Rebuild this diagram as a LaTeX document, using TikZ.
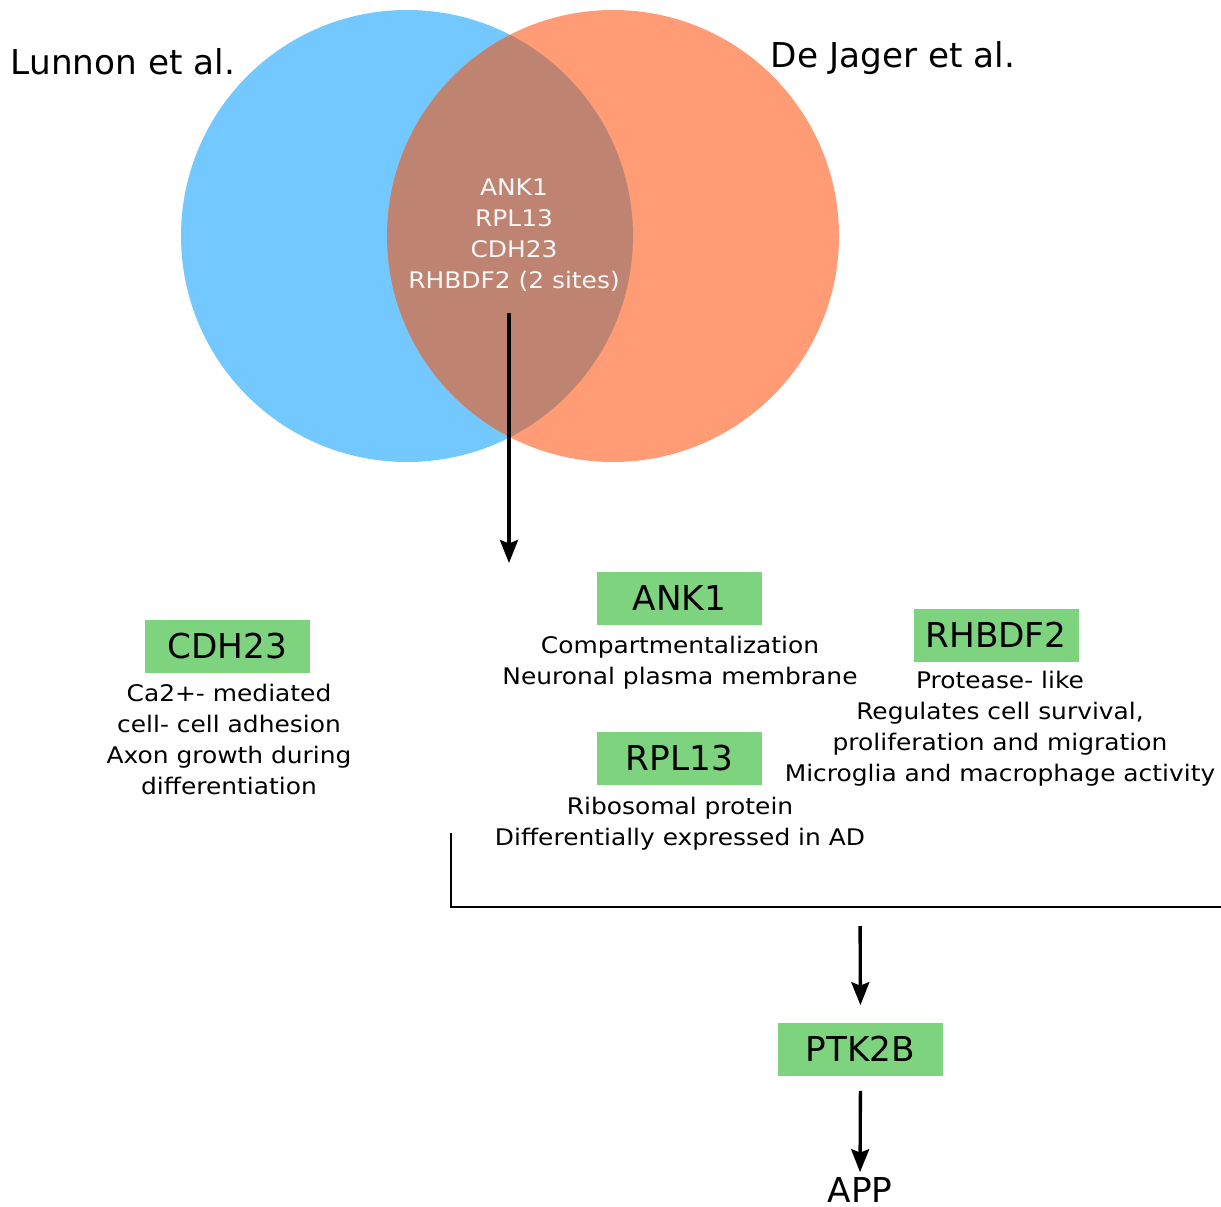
\documentclass[tikz,border=0pt]{standalone}
\usepackage{fontspec}
\setmainfont{DejaVu Sans}
\newfontfamily\widefont[FakeStretch=1.09]{DejaVu Sans}
\usetikzlibrary{arrows.meta}

\definecolor{lunnonblue}{RGB}{115,200,255}
\definecolor{jagerorange}{RGB}{255,155,117}
\definecolor{sharedbrown}{RGB}{190,132,113}
\definecolor{genegreen}{RGB}{126,211,126}

\tikzset{
  gene/.style={fill=genegreen, minimum width=3.3cm, minimum height=1.06cm,
    inner sep=0pt, font=\fontsize{19.5}{23}\selectfont},
  desc/.style={align=center, inner sep=0pt,
    font=\widefont\fontsize{13}{17.6}\selectfont},
  study/.style={inner sep=0pt, font=\fontsize{19.5}{23}\selectfont},
  flow/.style={-{Stealth[length=0.46cm,width=0.36cm,inset=0.07cm]}, line width=1.9pt}
}

\begin{document}
\begin{tikzpicture}

    \useasboundingbox (0,0) rectangle (24.42,-24.14);

    % venn
    \fill[lunnonblue] (8.14,-4.72) circle (4.52);
    \fill[jagerorange] (12.26,-4.72) circle (4.52);
    \begin{scope}
      \clip (8.14,-4.72) circle (4.52);
      \fill[sharedbrown] (12.26,-4.72) circle (4.52);
    \end{scope}

    \node[study] (lunnon) at (2.46,-1.24) {Lunnon et al.};
    \node[study] (jager) at (17.86,-1.16) {De Jager et al.};

    \node[desc, text={white!97!black}] (shared) at (10.28,-4.70)
      {ANK1\\RPL13\\CDH23\\RHBDF2 (2 sites)};

    \coordinate (split) at (10.18,-11.26);
    \draw[flow] (10.18,-6.26) -- (split);

    % genes
    \node[gene] (cdh) at (4.55,-12.93) {CDH23};
    \node[desc] (cdhtxt) at (4.58,-14.79)
      {Ca2+- mediated\\cell- cell adhesion\\Axon growth during\\differentiation};

    \node[gene] (ank) at (13.59,-11.97) {ANK1};
    \node[desc] (anktxt) at (13.6,-13.25)
      {Compartmentalization\\Neuronal plasma membrane};

    \node[gene] (rhb) at (19.92,-12.70) {RHBDF2};
    \node[desc] (rhbtxt) at (20.0,-14.57)
      {Protease- like\\Regulates cell survival,\\proliferation and migration\\Microglia and macrophage activity};

    \node[gene] (rpl) at (13.59,-15.17) {RPL13};
    \node[desc] (rpltxt) at (13.6,-16.47)
      {Ribosomal protein\\Differentially expressed in AD};

    % bracket
    \coordinate (bl) at (9.02,-16.66);
    \coordinate (bc) at (9.02,-18.14);
    \coordinate (br) at (24.42,-18.14);
    \draw[line width=0.85pt] (bl) -- (bc) -- (br);

    \node[gene] (ptk) at (17.21,-20.98) {PTK2B};
    \node[study] (app) at (17.2,-23.80) {APP};

    \coordinate (join) at (17.2,-18.14);
    \draw[flow, shorten <=0.38cm, shorten >=0.34cm] (join) -- (ptk.north);
    \draw[flow, shorten <=0.3cm, shorten >=0.1cm] (ptk.south) -- (app.north);

\end{tikzpicture}
\end{document}
